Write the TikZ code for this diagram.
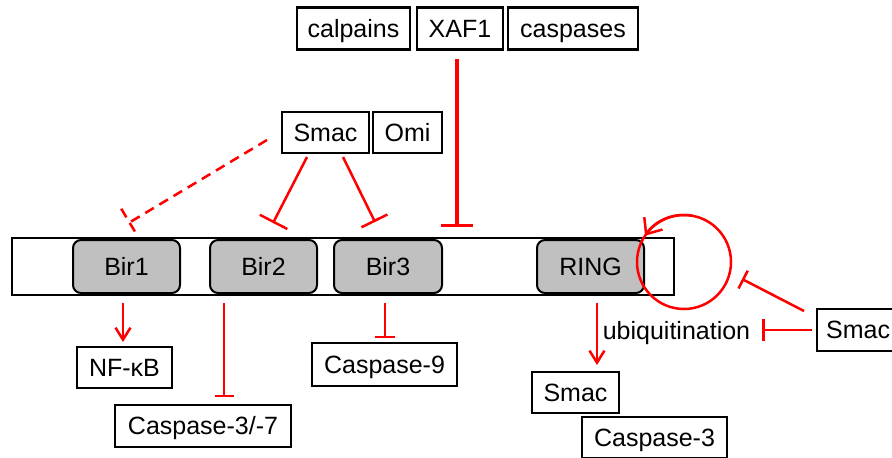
\documentclass[tikz,border=0pt]{standalone}
\usepackage{fontspec}
\setmainfont{Liberation Sans}
\usetikzlibrary{arrows.meta,calc}
\definecolor{inhib}{RGB}{255,0,0}
\definecolor{domfill}{RGB}{192,192,192}
\tikzset{
  txt/.style={font=\fontsize{25}{29}\selectfont,text height=17.5pt,text depth=0pt},
  lbl/.style={txt,draw=black,line width=2.4pt,fill=white,inner sep=0pt,
    minimum height=42pt},
  dombox/.style={txt,draw=black,line width=2pt,fill=domfill,rounded corners=8pt,
    inner sep=0pt,minimum width=107pt,minimum height=53pt},
  link/.style={draw=inhib,line width=2.5pt},
  blockT/.style={link,-{Bar[width=#1]}},
  blockT/.default=30pt,
  act/.style={link,-{Straight Barb[length=12pt,width=15pt]}},
}
\begin{document}
\begin{tikzpicture}[x=1pt,y=-1pt]
\useasboundingbox (0,0) rectangle (892,458);

% upstream regulators
\node[lbl,minimum width=113pt] (calp) at (353.5,28.5) {calpains};
\node[lbl,minimum width=86pt]  (xaf)  at (460,28.5)   {XAF1};
\node[lbl,minimum width=130pt] (casps) at (573,28.5)  {caspases};
\node[lbl,minimum width=87pt,minimum height=41pt] (smacA) at (325.5,132.5) {Smac};
\node[lbl,minimum width=69pt,minimum height=41pt] (omi)   at (407.5,132.5) {Omi};

% XIAP protein bar with its domains
\node[draw=black,line width=2.4pt,fill=white,minimum width=662pt,minimum height=57pt,inner sep=0pt]
  (xiap) at (343,266.5) {};
\node[dombox] (bir1) at (126.5,266.5) {Bir1};
\node[dombox] (bir2) at (263.5,266.5) {Bir2};
\node[dombox,minimum width=108pt] (bir3) at (388,266.5) {Bir3};
\node[dombox] (ring) at (590.5,266.5) {RING};

% downstream targets
\node[lbl,minimum width=95pt,minimum height=41pt]  (nfkb)  at (124.5,367.5) {NF-κB};
\node[lbl,minimum width=176pt] (casp37) at (203,426)   {Caspase-3/-7};
\node[lbl,minimum width=145pt,minimum height=43pt] (casp9) at (384.5,364.5) {Caspase-9};
\node[lbl,minimum width=87pt,minimum height=41pt]  (smacB) at (575.5,392.5) {Smac};
\node[lbl,minimum width=145pt,minimum height=41pt] (casp3) at (654.5,437.5) {Caspase-3};

% Smac at the right margin: its box runs past the edge
\draw[line width=2.4pt] (900,309) -| (817,351) -- (900,351);
\node[txt,anchor=west,inner sep=0pt] (smacC) at (826,330) {Smac};
\node[font=\fontsize{25}{29}\selectfont,anchor=base,inner sep=0pt] (ubq) at (676.5,339) {ubiquitination};

% anchor points of the connectors
\coordinate (xafS) at (457,59);
\coordinate (xafE) at (457,227);
\coordinate (b2S) at (307,157);
\coordinate (b2E) at (273,223);
\coordinate (b3S) at (343,157);
\coordinate (b3E) at (375,222);
\coordinate (b1S) at (267,140);
\coordinate (b1E) at (129.5,222.5);
\coordinate (nfS) at (123,303);
\coordinate (nfE) at (123,342);
\coordinate (c37S) at (224,303);
\coordinate (c37E) at (224,397);
\coordinate (c9S) at (385,303);
\coordinate (c9E) at (385,338);
\coordinate (rgS) at (597,303);
\coordinate (rgE) at (597,365);
\coordinate (ubS) at (812,330);
\coordinate (ubE) at (762,330);
\coordinate (ciS) at (804,311);
\coordinate (ciE) at (742,279);
\coordinate (cc) at (684,262);

% inhibition of XIAP
\draw[link,line width=3.5pt,-{Bar[width=32pt]}] (xafS) -- (xafE);
\draw[blockT=31pt] (b2S) -- (b2E);
\draw[blockT=29pt] (b3S) -- (b3E);
\draw[link,dash pattern=on 10pt off 6.5pt] (b1S) -- (b1E);
\draw[link,dash pattern=on 10pt off 6.5pt]
  ($(b1E)!16pt!90:(b1S)$) -- ($(b1E)!16pt!-90:(b1S)$);

% effects of the domains
\draw[act] (nfS) -- (nfE);
\draw[blockT=19pt] (c37S) -- (c37E);
\draw[blockT=20pt] (c9S) -- (c9E);
\draw[act] (rgS) -- (rgE);

% RING auto-ubiquitination loop
\draw[link] (cc) circle[radius=47pt];
\draw[link,-{Straight Barb[length=13pt,width=22pt]}]
  ($(cc)+(-80:47)$) arc[start angle=-80,end angle=-146,radius=47];

% Smac blocks ubiquitination
\draw[blockT=22pt] (ubS) -- (ubE);
\draw[blockT=20pt] (ciS) -- (ciE);
\end{tikzpicture}
\end{document}
